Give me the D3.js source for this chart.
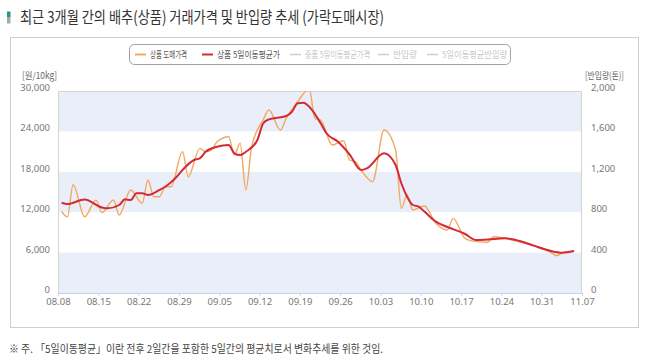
<!DOCTYPE html>
<html><head><meta charset="utf-8">
<script src="https://cdn.jsdelivr.net/npm/d3@7"></script>
<style>
body{margin:0;background:#fff;}
svg{display:block;font-family:"Noto Sans CJK KR","Noto Sans",sans-serif;}
</style></head><body>
<svg id="c" width="648" height="363"></svg>
<script>
// ---------- data ----------
const priceDates = ["08.09","08.10","08.11","08.13","08.15","08.16","08.18","08.19","08.21","08.23","08.24","08.25","08.26","08.27","08.28","08.30","08.31","09.02","09.03","09.04","09.05","09.07","09.08","09.09","09.10","09.11","09.13","09.14","09.16","09.17","09.19","09.21","09.22","09.23","09.25","09.27","09.28","09.29","09.30","10.02","10.04","10.06","10.07","10.08","10.09","10.11","10.13","10.15","10.16","10.18","10.19","10.22","10.23","10.25","10.27","10.28","10.30","11.01","11.02","11.03","11.04","11.06"];
const priceValues = [12100,11300,16080,11330,13800,11930,13810,11580,15300,13320,16780,14300,14300,15780,15780,20980,17270,21480,20980,21230,22470,23210,20490,22230,15300,21730,25690,27180,24200,25940,28410,30300,25940,25690,21980,22620,19750,19500,18270,16530,24200,21230,12580,14550,12330,12920,10350,9360,11090,8120,7770,7530,8360,8120,7700,7500,7030,6400,6000,5540,5990,6240];
const maDates = ["08.09","08.10","08.13","08.16","08.17","08.19","08.20","08.21","08.22","08.23","08.24","08.26","08.27","08.29","08.30","09.01","09.02","09.03","09.05","09.07","09.08","09.09","09.10","09.12","09.13","09.14","09.17","09.18","09.19","09.20","09.21","09.23","09.24","09.26","09.28","09.30","10.01","10.04","10.06","10.07","10.08","10.09","10.10","10.11","10.13","10.15","10.18","10.20","10.22","10.25","10.28","10.30","11.02","11.04","11.06"];
const maValues = [13400,13200,13900,12700,12570,13070,13910,13810,14800,14800,14550,15300,15780,17270,18270,19750,20000,20980,21730,21980,20750,20490,20980,22720,25200,25790,26280,26920,28170,28260,27670,25200,23720,22470,20600,18270,18510,20750,19010,16300,14300,13070,12820,12100,10590,9800,8800,7870,7950,8120,7620,7030,6240,5990,6240];
const year = 2022;
const leftTicks = [0,6000,12000,18000,24000,30000];
const rightTicks = [0,400,800,1200,1600,2000];
const xTickLabels = ["08.08","08.15","08.22","08.29","09.05","09.12","09.19","09.26","10.03","10.10","10.17","10.24","10.31","11.07"];
const legendLabels = ["상품 도매가격","상품 5일이동평균가","중품 5일이동평균가격","반입량","5일이동평균반입량"];
const legendColors = ["#f2a85e","#d42a35","#cccccc","#cccccc","#cccccc"];
const legendActive = [true,true,false,false,false];
const titleText = "최근 3개월 간의 배추(상품) 거래가격 및 반입량 추세 (가락도매시장)";
const noteText = "※ 주. 「5일이동평균」이란 전후 2일간을 포함한 5일간의 평균치로서 변화추세를 위한 것임.";

// ---------- layout ----------
const svg = d3.select("#c");
const L = 58, R = 582, T = 91, B = 293;
const parse = d3.timeParse("%Y.%m.%d");
const tz = 9 * 3600 * 1000; // data stamped in KST, axis in UTC
const pd = s => new Date(parse(year + "." + s).getTime() - tz);

const x = d3.scaleTime().domain([parse(year+"."+xTickLabels[0]), parse(year+"."+xTickLabels[xTickLabels.length-1])]).range([L, R]);
const yL = d3.scaleLinear().domain([0, 30000]).range([B, T]);
const yR = d3.scaleLinear().domain([0, 2000]).range([B, T]);

// title
svg.append("rect").attr("x",7).attr("y",11.5).attr("width",3.5).attr("height",5.5).attr("fill","#1f9a89");
svg.append("rect").attr("x",7).attr("y",17).attr("width",3.5).attr("height",6.5).attr("fill","#a9a9a9");
svg.append("text").attr("x",20).attr("y",23).attr("font-size",16).attr("fill","#333")
  .attr("textLength",364).attr("lengthAdjust","spacingAndGlyphs").text(titleText);

// box
svg.append("rect").attr("x",10.5).attr("y",37.5).attr("width",628).attr("height",290).attr("fill","none").attr("stroke","#cfcfcf");

// legend
const lg = svg.append("g");
lg.append("rect").attr("x",129.5).attr("y",44.5).attr("width",381).attr("height",20).attr("rx",5).attr("fill","#fff").attr("stroke","#a0a0a0");
const legX = [135, 202, 290, 378, 427];
const legW = [37, 63, 65, 24, 65];
legendLabels.forEach((t,i)=>{
  lg.append("line").attr("x1",legX[i]).attr("x2",legX[i]+11).attr("y1",54.5).attr("y2",54.5)
    .attr("stroke",legendColors[i]).attr("stroke-width",legendActive[i]?2:1.5);
  lg.append("text").attr("x",legX[i]+15).attr("y",58).attr("font-size",9.5)
    .attr("textLength",legW[i]).attr("lengthAdjust","spacingAndGlyphs")
    .attr("fill",legendActive[i]?"#555":"#c8c8c8").text(t);
});

// bands
const bandG = svg.append("g");
for (let i = 0; i < leftTicks.length-1; i++) {
  if (i % 2 === 0) {
    bandG.append("rect").attr("x",L).attr("width",R-L)
      .attr("y",yL(leftTicks[i+1])).attr("height",yL(leftTicks[i])-yL(leftTicks[i+1]))
      .attr("fill","#eaeef9");
  }
}
// plot frame
svg.append("line").attr("x1",L).attr("x2",R).attr("y1",T+0.5).attr("y2",T+0.5).attr("stroke","#d4d4d4");
svg.append("line").attr("x1",L+0.5).attr("x2",L+0.5).attr("y1",T).attr("y2",B).attr("stroke","#d4d4d4");
svg.append("line").attr("x1",R-0.5).attr("x2",R-0.5).attr("y1",T).attr("y2",B).attr("stroke","#d4d4d4");

// axes
const tickFont = "'Liberation Sans Narrow','Noto Sans',sans-serif";
const axL = svg.append("g").attr("transform",`translate(${L-5},-3.5)`)
  .call(d3.axisLeft(yL).tickValues(leftTicks).tickSize(0).tickFormat(d3.format(",")));
const axR = svg.append("g").attr("transform",`translate(${R+6},-3.5)`)
  .call(d3.axisRight(yR).tickValues(rightTicks).tickSize(0).tickFormat(d3.format(",")));
const xTicks = xTickLabels.map(s => parse(year+"."+s));
const axX = svg.append("g").attr("transform",`translate(0,${B})`)
  .call(d3.axisBottom(x).tickValues(xTicks).tickSize(3).tickFormat(d3.timeFormat("%m.%d")));
[axL, axR, axX].forEach(a => {
  a.select(".domain").remove();
  a.selectAll("text").attr("font-family",tickFont).attr("font-size",9.5).attr("fill","#777");
});
axX.selectAll("line").attr("stroke","#ccd6eb");
axX.selectAll("text").attr("y",5).attr("dy","0.71em");
svg.append("line").attr("x1",L).attr("x2",R).attr("y1",B+0.5).attr("y2",B+0.5).attr("stroke","#c6d0e6");

svg.append("text").attr("x",22).attr("y",79).attr("font-size",9.5).attr("fill","#666")
  .attr("textLength",35).attr("lengthAdjust","spacingAndGlyphs").text("[원/10kg]");
svg.append("text").attr("x",585).attr("y",79).attr("font-size",9.5).attr("fill","#666")
  .attr("textLength",39).attr("lengthAdjust","spacingAndGlyphs").text("[반입량(톤)]");

// clip
svg.append("clipPath").attr("id","clip").append("rect").attr("x",L).attr("y",T).attr("width",R-L).attr("height",B-T);

const line = d3.line().x(d=>x(d[0])).y(d=>yL(d[1])).curve(d3.curveMonotoneX);
const priceData = priceDates.map((d,i)=>[pd(d), priceValues[i]]);
const maData = maDates.map((d,i)=>[pd(d), maValues[i]]);
const gL = svg.append("g").attr("clip-path","url(#clip)");
gL.append("path").attr("d",line(priceData)).attr("fill","none").attr("stroke","#f2a85e").attr("stroke-width",1.4);
gL.append("path").attr("d",line(maData)).attr("fill","none").attr("stroke","#d42a35").attr("stroke-width",2);

// note
svg.append("text").attr("x",9).attr("y",353).attr("font-size",11).attr("fill","#444")
  .attr("textLength",374).attr("lengthAdjust","spacingAndGlyphs").text(noteText);
</script></body></html>
